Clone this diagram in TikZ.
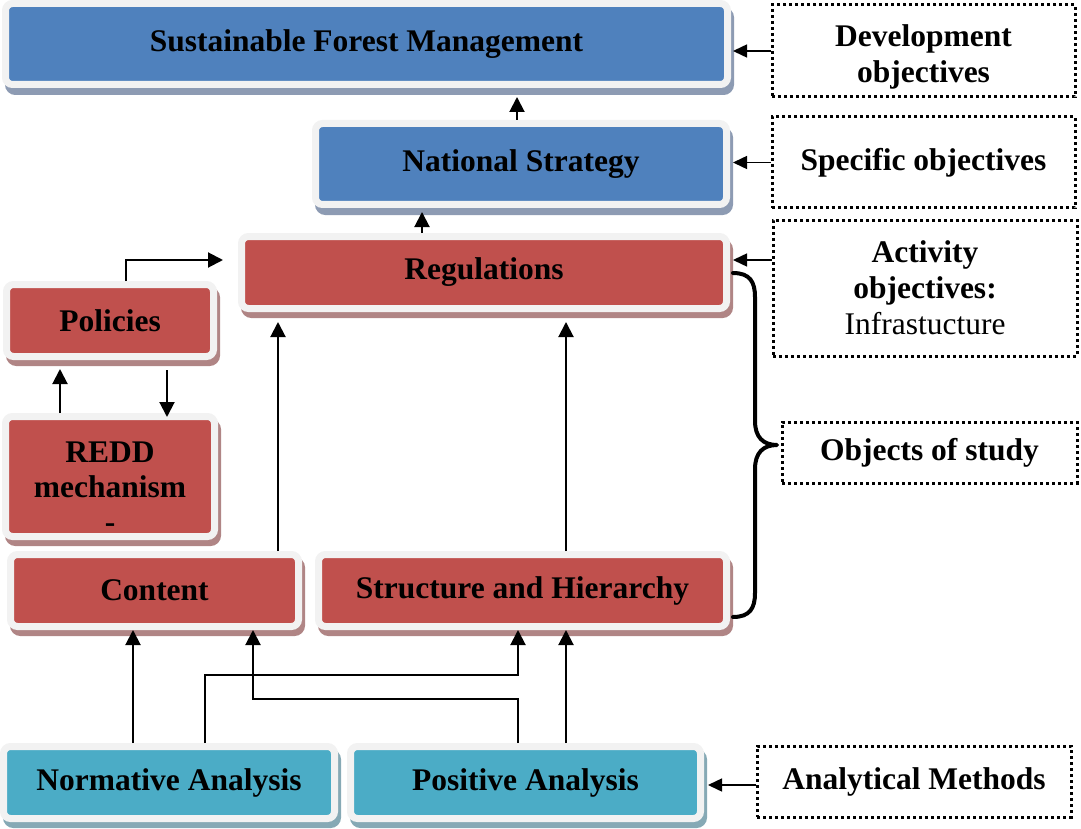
\documentclass[tikz,border=0pt]{standalone}
\usepackage{fontspec}
\setmainfont{Liberation Serif}
\usetikzlibrary{arrows.meta,shadows}
\definecolor{sfblue}{HTML}{4F81BD}
\definecolor{sfred}{HTML}{C0504D}
\definecolor{sfcyan}{HTML}{4BACC6}
\definecolor{rimgray}{HTML}{F2F2F2}
\definecolor{shblue}{HTML}{8D9BB3}
\definecolor{shred}{HTML}{B08585}
\definecolor{shcyan}{HTML}{86A9B5}
\newcommand\mlines[2]{\raisebox{#1}[\height][\depth]{\begin{tabular}{@{}c@{}}#2\end{tabular}}}
\begin{document}
\begin{tikzpicture}[x=1pt,y=-1pt,
  box/.style={rectangle, rounded corners=7pt, draw=rimgray, line width=7pt, inner sep=0pt,
    font=\fontsize{31.5}{35}\selectfont\bfseries, align=center},
  bluebox/.style={box, fill=sfblue, drop shadow={shadow xshift=3pt, shadow yshift=-7pt, fill=shblue, draw=shblue, line width=7pt, opacity=1}},
  redbox/.style={box, fill=sfred, drop shadow={shadow xshift=3pt, shadow yshift=-6pt, fill=shred, draw=shred, line width=7pt, opacity=1}},
  cyanbox/.style={box, fill=sfcyan, drop shadow={shadow xshift=3pt, shadow yshift=-6pt, fill=shcyan, draw=shcyan, line width=7pt, opacity=1}},
  dotbox/.style={rectangle, draw=black, line width=3pt, dash pattern=on 3.3pt off 2.7pt, inner sep=0pt,
    font=\fontsize{31.5}{36}\selectfont\bfseries, align=center},
  conn/.style={line width=2pt, -{Triangle[width=15pt,length=15pt]}},
  sidearrow/.style={line width=1.5pt, -{Triangle[width=13pt,length=14pt]}},
  bracestyle/.style={line width=4pt, line cap=round, line join=round}
]
\useasboundingbox (0,0) rectangle (1081,829);

% main boxes
\node[bluebox, minimum width=722pt, minimum height=81pt] (sfm) at (366.5,44) {Sustainable Forest Management};
\node[bluebox, minimum width=411pt, minimum height=81pt] (ns) at (521,164) {National Strategy};
\node[redbox, minimum width=485pt, minimum height=72pt] (reg) at (484,272.5) {Regulations};
\node[redbox, minimum width=207pt, minimum height=72pt] (pol) at (110,320.5) {Policies};
\node[redbox, minimum width=209pt, minimum height=120pt] (redd) at (110,476.5) {\mlines{-13.5pt}{REDD\\mechanism\\-}};
\node[redbox, minimum width=288pt, minimum height=72pt] (content) at (154.5,590.5) {Content};
\node[redbox, minimum width=408pt, minimum height=72pt] (struct) at (522.5,590.5) {Structure and Hierarchy};
\node[cyanbox, minimum width=331pt, minimum height=72pt] (norm) at (169,782.5) {Normative Analysis};
\node[cyanbox, minimum width=350pt, minimum height=72pt] (pos) at (525.5,782.5) {Positive Analysis};

% dotted boxes
\node[dotbox, minimum width=303pt, minimum height=92pt] (dev) at (923.5,51) {\mlines{-6pt}{Development\\objectives}};
\node[dotbox, minimum width=303pt, minimum height=91pt] (spec) at (923.5,162.5) {Specific objectives};
\node[dotbox, minimum width=304pt, minimum height=136pt] (act) at (925,288) {Activity\\objectives:\\{\mdseries Infrastucture}};
\node[dotbox, minimum width=295pt, minimum height=61pt] (obj) at (929.5,452.5) {Objects of study};
\node[dotbox, minimum width=314pt, minimum height=71pt] (anal) at (914,781.5) {Analytical Methods};

% helper coordinates
\coordinate (xA) at (133,0);
\coordinate (xB) at (205,0);
\coordinate (xC) at (253,0);
\coordinate (xD) at (518,0);
\coordinate (xE) at (566,0);
\coordinate (xF) at (278,0);
\coordinate (xG) at (422,0);
\coordinate (xH) at (517,0);
\coordinate (xP) at (126,0);
\coordinate (xQ) at (60,0);
\coordinate (xR) at (167,0);
\coordinate (yB) at (0,675);
\coordinate (yC) at (0,699);
\coordinate (yP) at (0,260);
\coordinate (yAn) at (0,785);
\coordinate (ptip) at (223,260);

% analysis to objects
\draw[conn] (norm.north -| xA) -- (content.south -| xA);
\draw[conn] (norm.north -| xB) |- (xD |- yB) -- (struct.south -| xD);
\draw[conn] (pos.north -| xD) |- (xC |- yC) -- (content.south -| xC);
\draw[conn] (pos.north -| xE) -- (struct.south -| xE);

% upward chain
\draw[conn, shorten >=10pt] (content.north -| xF) -- (reg.south -| xF);
\draw[conn, shorten >=10pt] (struct.north -| xE) -- (reg.south -| xE);
\draw[conn, shorten >=4pt] (reg.north -| xG) -- (ns.south -| xG);
\draw[conn, shorten >=9pt] (ns.north -| xH) -- (sfm.south -| xH);

% policies and REDD
\draw[conn] (pol.north -| xP) |- (ptip);
\draw[conn, shorten >=9pt] (redd.north -| xQ) -- (pol.south -| xQ);
\draw[conn, shorten <=10pt, shorten >=-4pt] (pol.south -| xR) -- (redd.north -| xR);

% side arrows
\draw[sidearrow, shorten >=2pt] (dev.west) -- (sfm.east |- dev.west);
\draw[sidearrow, shorten >=3pt] (spec.west) -- (ns.east |- spec.west);
\draw[sidearrow, shorten >=3pt] (act.west |- yP) -- (reg.east |- yP);
\draw[sidearrow, shorten >=4pt] (anal.west |- yAn) -- (pos.east |- yAn);

% brace
\coordinate (bt) at (733,273);
\coordinate (bb) at (733,617);
\coordinate (btip) at (777,445);
\draw[bracestyle] (bt) .. controls (750,273) and (755,282) .. (755,297) -- (755,421)
  .. controls (755,437) and (763,445) .. (btip)
  .. controls (763,445) and (755,453) .. (755,469) -- (755,593)
  .. controls (755,608) and (750,617) .. (bb);
\end{tikzpicture}
\end{document}
